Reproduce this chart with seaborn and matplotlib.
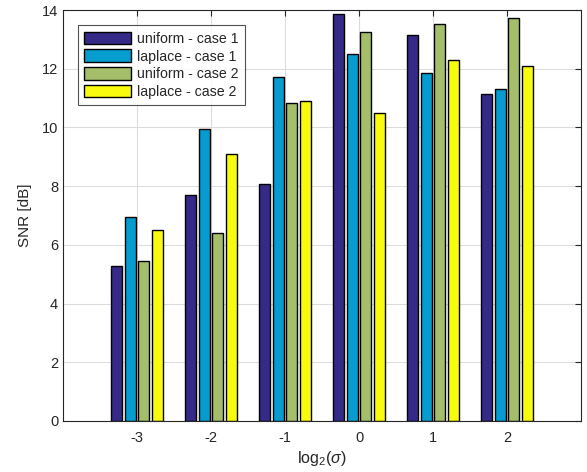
import numpy as np
import pandas as pd
import matplotlib
matplotlib.use("Agg")
import matplotlib.pyplot as plt
import seaborn as sns

# log2(sigma) groups and SNR values [dB] per series
sigma_labels = ["-3", "-2", "-1", "0", "1", "2"]
series_names = ["uniform - case 1", "laplace - case 1", "uniform - case 2", "laplace - case 2"]
uniform_case1 = [5.28, 7.69, 8.07, 13.86, 13.15, 11.13]
laplace_case1 = [6.95, 9.95, 11.71, 12.49, 11.84, 11.30]
uniform_case2 = [5.46, 6.41, 10.84, 13.25, 13.52, 13.73]
laplace_case2 = [6.50, 9.08, 10.91, 10.48, 12.30, 12.08]
colors = ["#352a87", "#069ccf", "#a5be6a", "#f9fb0e"]

rows = []
for name, vals in zip(series_names, [uniform_case1, laplace_case1, uniform_case2, laplace_case2]):
    for s, v in zip(sigma_labels, vals):
        rows.append({"sigma": s, "snr": v, "series": name})
df = pd.DataFrame(rows)

sns.set_style("white")
plt.rcParams["font.family"] = ["Liberation Sans", "DejaVu Sans"]
plt.rcParams["mathtext.fontset"] = "custom"
plt.rcParams["mathtext.rm"] = "Liberation Sans"
plt.rcParams["mathtext.it"] = "Liberation Sans:italic"

fig = plt.figure(figsize=(5.87, 4.72), dpi=100)
ax = fig.add_axes([63 / 587, 1 - 421 / 472, (581 - 63) / 587, (421 - 10) / 472])

sns.barplot(data=df, x="sigma", y="snr", hue="series", order=sigma_labels,
            hue_order=series_names, palette=colors, width=0.74, gap=0.19,
            edgecolor="black", linewidth=1.0, saturation=1, ax=ax)

ax.set_xlim(-1, 6)
ax.set_ylim(0, 14)
ax.set_yticks(np.arange(0, 15, 2))
ax.grid(True, color="#dcdcdc", linewidth=0.8)
ax.set_axisbelow(True)
ax.tick_params(direction="in", top=True, right=True, length=4, labelsize=10.5,
               color="#262626", labelcolor="#262626")
ax.tick_params(axis="x", pad=7)
for sp in ax.spines.values():
    sp.set_visible(True)
    sp.set_color("#262626")
    sp.set_linewidth(0.8)

ax.set_xlabel(r"log$_2$($\it{\sigma}$)", fontsize=11.5, color="#262626", labelpad=3)
ax.set_ylabel("SNR [dB]", fontsize=11, color="#262626", labelpad=7)

leg = ax.legend(loc="upper left", bbox_to_anchor=(0.029, 0.963), fontsize=10.2,
                frameon=True, fancybox=False, edgecolor="#262626",
                handlelength=3.3, handleheight=1.0, labelspacing=0.25,
                borderpad=0.45, handletextpad=0.4, borderaxespad=0)
leg.get_frame().set_linewidth(0.8)

fig.savefig("out.png", dpi=100)
